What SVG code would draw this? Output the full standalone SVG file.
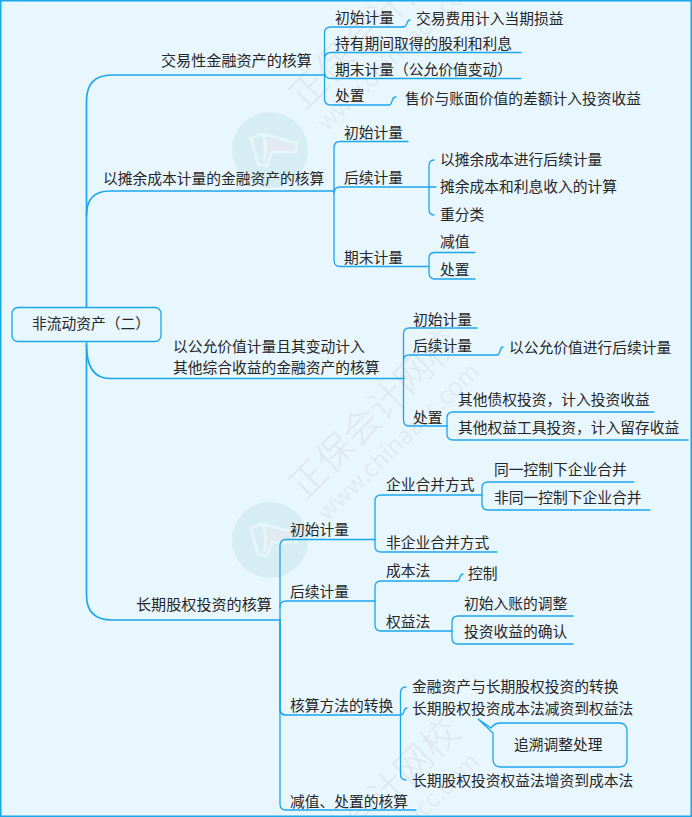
<svg xmlns="http://www.w3.org/2000/svg" width="692" height="817" viewBox="0 0 692 817">
<style>
text{font-family:"Noto Sans CJK SC","Noto Sans",sans-serif;font-size:14.750px;fill:#262626}
text.w{font-size:15.100px}
.wm{font-size:37px;font-weight:300;fill:#dfe8ec}
.wu{font-size:24px;font-weight:300;fill:#dfe8ec}
.c{fill:none;stroke:#1ba7ec;stroke-width:1.3;stroke-linecap:round}
.s{stroke-width:1.7}
.box{fill:#e8f6fe;stroke:#1ba7ec;stroke-width:1.3}
</style>
<defs>
<g id="mark">
<circle cx="270" cy="150" r="38" fill="#d6edf3"/>
<path d="M264 138L296 144L295 151L272 151L268 163L260 150Z" fill="#e3e9f3"/>
<path d="M251 138L262 134L297 143L296 152L272 152L267 166L258 164L251 138ZM262 134Q268 145 264 162" fill="none" stroke="#e6f5f9" stroke-width="3" stroke-linejoin="round"/>
</g>
<g id="wmark">
<text class="wm" transform="translate(305 111) rotate(-45)">正保会计网校</text>
<text class="wu" transform="translate(327 132) rotate(-44)" textLength="214">www.chinaacc.com</text>
</g>
</defs>
<rect width="692" height="817" fill="#e8f6fe"/>
<g id="watermarks">
<use href="#mark"/><use href="#mark" y="390"/>
<use href="#wmark"/><use href="#wmark" y="390"/><use href="#wmark" y="780"/>
</g>
<rect x="0.75" y="0.75" width="690.5" height="815.5" fill="none" stroke="#1ba7ec" stroke-width="1.5"/>
<g id="connectors">
<path class="c s" d="M325 75H112Q86.500 75 86.500 101V595Q86.500 620 112 620H280"/>
<path class="c s" d="M334 191H110Q86.500 191 86.500 215"/>
<path class="c s" d="M86.500 345Q86.500 378.500 110 378.500H404"/>
<path class="c" d="M403 27H331Q324.500 27 324.500 33V99Q324.500 105 331 105H389Q391 105 392 101Q393 97 396 97"/>
<path class="c" d="M403 27Q406 27 407 23Q408 20 410 20"/>
<path class="c" d="M324.500 59Q324.500 52.500 331 52.500H521"/>
<path class="c" d="M324.500 72Q324.500 78.500 331 78.500H521"/>
<path class="c" d="M408 141.500H340Q334 141.500 334 148V260Q334 266.500 340 266.500H429"/>
<path class="c" d="M334 193Q334 187 340 187H429"/>
<path class="c" d="M434 160Q429 160 429 166V209Q429 215 434 215"/>
<path class="c" d="M429 187H436"/>
<path class="c" d="M475 252.500H435Q429 252.500 429 258V273Q429 279 435 279H475"/>
<path class="c" d="M477 328H409Q403.500 328 403.500 334V420Q403.500 426 409 426H447"/>
<path class="c" d="M403.500 361Q403.500 355 409 355H497Q499 355 500 351Q501 347 503 347"/>
<path class="c" d="M654 412H453Q447 412 447 418V434Q447 440 453 440H688"/>
<path class="c" d="M285 539.500H375M280 620V546Q280 539.500 286 539.500"/>
<path class="c" d="M280 620V804Q280 810 286 810H416"/>
<path class="c" d="M280 607Q280 601 286 601H375"/>
<path class="c s" d="M280 620V709Q280 715 286 715H400"/>
<path class="c" d="M482 495H381Q375 495 375 501V546Q375 552 381 552H497"/>
<path class="c" d="M634 482H488Q482 482 482 488V504Q482 510 488 510H650"/>
<path class="c" d="M457 581H381Q375 581 375 587V625Q375 631 381 631H452"/>
<path class="c" d="M457 581Q459 581 460 577Q461 574 463 574"/>
<path class="c" d="M573 616H458Q452 616 452 622V638Q452 644 458 644H573"/>
<path class="c" d="M406 687Q400.500 687 400.500 693V774Q400.500 780 406 780"/>
<path class="c" d="M400.500 715Q404 714 404 711Q405 708 407 708"/>
</g>
<g id="root"><rect class="box" x="12" y="307.500" width="149" height="34" rx="6"/><text x="32" y="329">非流动资产（二）</text></g>
<g id="n1"><text class="w" x="161" y="66">交易性金融资产的核算</text></g>
<g id="n1a"><text x="335" y="23">初始计量</text></g>
<g id="n1a1"><text x="416" y="24">交易费用计入当期损益</text></g>
<g id="n1b"><text x="335" y="49">持有期间取得的股利和利息</text></g>
<g id="n1c"><text x="335" y="75">期末计量（公允价值变动）</text></g>
<g id="n1d"><text x="335" y="101">处置</text></g>
<g id="n1d1"><text x="405" y="104">售价与账面价值的差额计入投资收益</text></g>
<g id="n2"><text x="103" y="184">以摊余成本计量的金融资产的核算</text></g>
<g id="n2a"><text x="344" y="138">初始计量</text></g>
<g id="n2b"><text x="344" y="183">后续计量</text></g>
<g id="n2b1"><text x="440" y="165">以摊余成本进行后续计量</text></g>
<g id="n2b2"><text x="440" y="192">摊余成本和利息收入的计算</text></g>
<g id="n2b3"><text x="440" y="220">重分类</text></g>
<g id="n2c"><text x="344" y="263">期末计量</text></g>
<g id="n2c1"><text x="440" y="247">减值</text></g>
<g id="n2c2"><text x="440" y="275">处置</text></g>
<g id="n3"><text x="173" y="351.500">以公允价值计量且其变动计入<tspan x="173" y="372.800">其他综合收益的金融资产的核算</tspan></text></g>
<g id="n3a"><text x="413" y="325">初始计量</text></g>
<g id="n3b"><text x="413" y="351">后续计量</text></g>
<g id="n3b1"><text x="509" y="353">以公允价值进行后续计量</text></g>
<g id="n3c"><text x="413" y="423">处置</text></g>
<g id="n3c1"><text x="458" y="405">其他债权投资，计入投资收益</text></g>
<g id="n3c2"><text x="458" y="433">其他权益工具投资，计入留存收益</text></g>
<g id="n4"><text class="w" x="136" y="610">长期股权投资的核算</text></g>
<g id="n4a"><text x="290" y="535">初始计量</text></g>
<g id="n4a1"><text x="386" y="490">企业合并方式</text></g>
<g id="n4a11"><text x="494" y="475">同一控制下企业合并</text></g>
<g id="n4a12"><text x="494" y="503">非同一控制下企业合并</text></g>
<g id="n4a2"><text x="386" y="548">非企业合并方式</text></g>
<g id="n4b"><text x="290" y="597">后续计量</text></g>
<g id="n4b1"><text x="386" y="576">成本法</text></g>
<g id="n4b11"><text x="468" y="579">控制</text></g>
<g id="n4b2"><text x="386" y="627">权益法</text></g>
<g id="n4b21"><text x="464" y="609">初始入账的调整</text></g>
<g id="n4b22"><text x="464" y="637">投资收益的确认</text></g>
<g id="n4c"><text x="290" y="711">核算方法的转换</text></g>
<g id="n4c1"><text x="412" y="692">金融资产与长期股权投资的转换</text></g>
<g id="n4c2"><text x="412" y="714">长期股权投资成本法减资到权益法</text></g>
<g id="n4c3"><text x="412" y="786">长期股权投资权益法增资到成本法</text></g>
<g id="n4d"><text x="290" y="807">减值、处置的核算</text></g>
<g id="callout"><path class="box" d="M501 723H619Q627 723 627 731V759Q627 767 619 767H501Q493 767 493 759V733L478 719L491 728Q494 723 501 723Z"/><text x="514" y="750">追溯调整处理</text></g>
</svg>
